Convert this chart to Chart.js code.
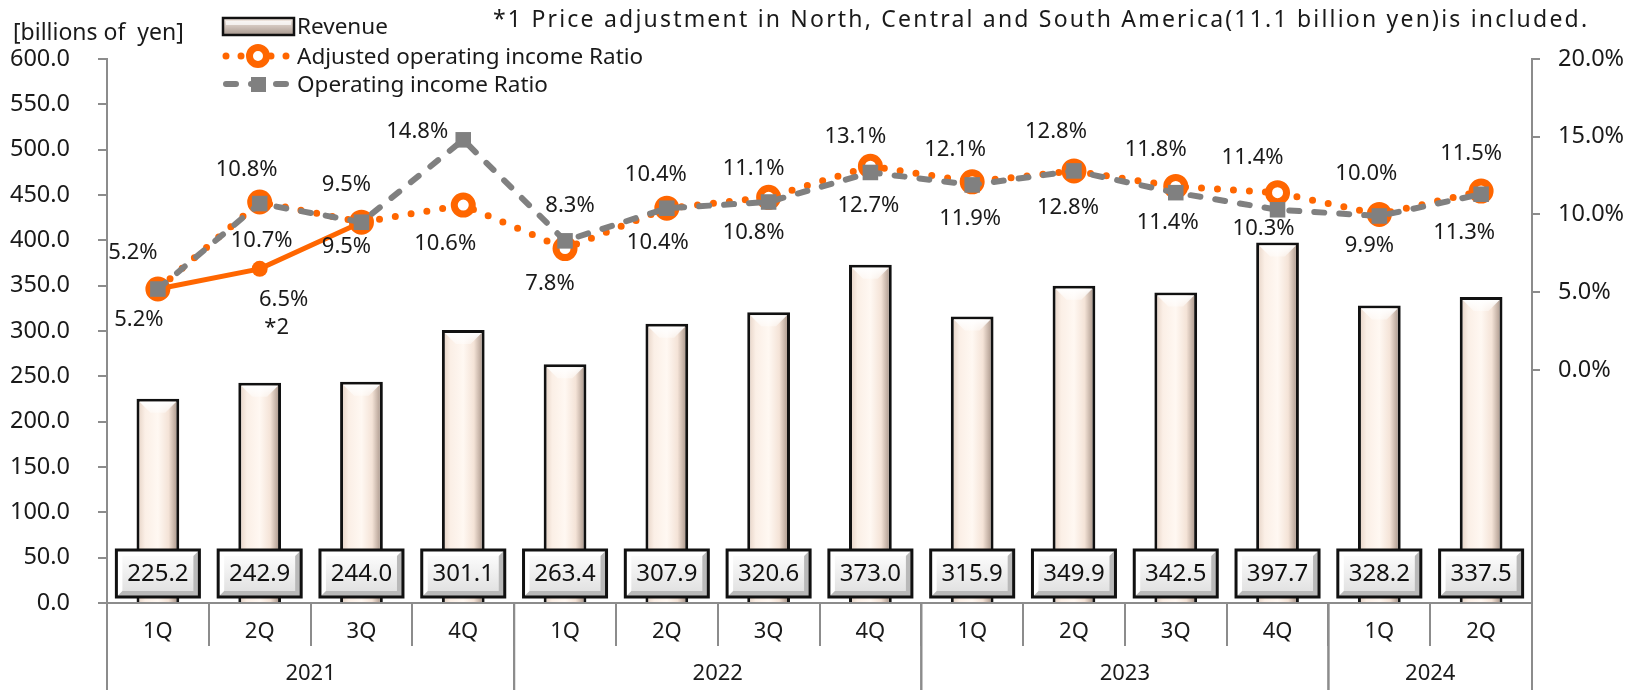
<!DOCTYPE html>
<html>
<head>
<meta charset="utf-8">
<title>Revenue and operating income ratio</title>
<script src="https://cdn.jsdelivr.net/npm/chart.js@4.4.0/dist/chart.umd.min.js"></script>
<style>
    html, body { margin: 0; padding: 0; background: #fff; }
    #wrap { width: 1645px; height: 690px; }
</style>
</head>
<body>
<div id="wrap"><canvas id="chartRevenue" width="1645" height="690"></canvas></div>
<script>
const quarters = ['1Q', '2Q', '3Q', '4Q', '1Q', '2Q', '3Q', '4Q', '1Q', '2Q', '3Q', '4Q', '1Q', '2Q'];
const years = ['2021', '2022', '2023', '2024'];
const quartersPerYear = [4, 4, 4, 2];
const revenue = [225.2, 242.9, 244.0, 301.1, 263.4, 307.9, 320.6, 373.0, 315.9, 349.9, 342.5, 397.7, 328.2, 337.5];
const adjustedRatio = [5.2, 10.8, 9.5, 10.6, 7.8, 10.4, 11.1, 13.1, 12.1, 12.8, 11.8, 11.4, 10.0, 11.5];
const operatingRatio = [5.2, 10.7, 9.5, 14.8, 8.3, 10.4, 10.8, 12.7, 11.9, 12.8, 11.4, 10.3, 9.9, 11.3];
const exclAdjustmentRatio = [5.2, 6.5, 9.5, null, null, null, null, null, null, null, null, null, null, null];
const leftTicks = { min: 0, max: 600, step: 50 };
const rightTicks = { min: -15, max: 20, step: 5 };
const unitText = '[billions of  yen]';
const noteText = '*1 Price adjustment in North, Central and South America(11.1 billion yen)is included.';
const footnoteMark = '*2';

// label offsets in px from each point (layout only)
const offAdjusted = [[-19, 31], [-13, -32], [-15, -37], [-18, 39], [-15, 35], [-11, -33], [-15, -29], [-15, -30], [-17, -32], [-18, -39], [-20, -37], [-25, -35], [-13, -41], [-10, -37]];
const offOperating = [[-25, -36], [2, 37], [-15, 25], [-46, -8], [5, -35], [-9, 35], [-15, 31], [-2, 33], [-2, 34], [-6, 37], [-8, 30], [-14, 19], [-10, 30], [-17, 39]];
const offExcl = { 1: [24, 31] };

const cores = {
    laranja: '#FF6600',
    cinza: '#808080',
    eixo: '#8C8C8C',
    texto: '#1A1A1A'
};
const FONT = '"Noto Sans", "Open Sans", sans-serif';

function barGradient(c) {
    const chart = c.chart;
    const xs = chart.scales.x;
    if (!chart.chartArea || !xs || c.type !== 'data') return '#F8ECE3';
    const x = xs.getPixelForValue(c.dataIndex);
    const half = xs.width / quarters.length * 0.42 / 2;
    const g = chart.ctx.createLinearGradient(x - half, 0, x + half, 0);
    g.addColorStop(0, '#E2CEC0');
    g.addColorStop(0.2, '#FBEFE6');
    g.addColorStop(0.5, '#FFF8F2');
    g.addColorStop(0.75, '#F4E3D7');
    g.addColorStop(1, '#9C887C');
    return g;
}

function bevelBox(ctx, x, y, w, h, lw, light, dark) {
    const g = ctx.createLinearGradient(0, y, 0, y + h);
    g.addColorStop(0, light);
    g.addColorStop(1, dark);
    ctx.fillStyle = g;
    ctx.fillRect(x, y, w, h);
    ctx.lineWidth = lw;
    ctx.strokeStyle = '#111';
    ctx.strokeRect(x, y, w, h);
}

function valueBox(ctx, cx, bottom, text) {
    const w = 83, h = 47;
    const x = cx - w / 2, y = bottom - 6 - h;
    const b = 6;
    ctx.fillStyle = '#B9B9B9';
    ctx.fillRect(x, y, w, h);
    ctx.fillStyle = '#FFFFFF';
    ctx.beginPath();
    ctx.moveTo(x, y); ctx.lineTo(x + w, y); ctx.lineTo(x + w - b, y + b);
    ctx.lineTo(x + b, y + h - b); ctx.lineTo(x, y + h);
    ctx.closePath(); ctx.fill();
    const g = ctx.createLinearGradient(0, y + b, 0, y + h - b);
    g.addColorStop(0, '#FBFBFB');
    g.addColorStop(1, '#E2E2E2');
    ctx.fillStyle = g;
    ctx.fillRect(x + b, y + b, w - 2 * b, h - 2 * b);
    ctx.lineWidth = 3;
    ctx.strokeStyle = '#111';
    ctx.strokeRect(x, y, w, h);
    ctx.fillStyle = '#111';
    ctx.font = '24px ' + FONT;
    ctx.textAlign = 'center';
    ctx.textBaseline = 'middle';
    ctx.fillText(text, cx, y + h / 2 + 1);
}

const decorPlugin = {
    id: 'decor',
    afterDatasetDraw(chart, args) {
        if (args.index !== 0) return;
        const ctx = chart.ctx;
        ctx.save();
        args.meta.data.forEach(bar => {
            const l = bar.x - bar.width / 2 + 3, r = bar.x + bar.width / 2 - 3, t = bar.y + 3, b = 11;
            const g = ctx.createLinearGradient(0, t, 0, t + b);
            g.addColorStop(0, 'rgba(255,255,255,1)');
            g.addColorStop(1, 'rgba(255,255,255,0.4)');
            ctx.fillStyle = g;
            ctx.beginPath();
            ctx.moveTo(l, t); ctx.lineTo(r, t); ctx.lineTo(r - b, t + b); ctx.lineTo(l + b, t + b);
            ctx.closePath(); ctx.fill();
        });
        ctx.restore();
    },
    afterDatasetsDraw(chart) {
        const ctx = chart.ctx;
        const area = chart.chartArea;
        ctx.save();
        // revenue value boxes
        chart.getDatasetMeta(0).data.forEach((bar, i) => {
            valueBox(ctx, bar.x, area.bottom, revenue[i].toFixed(1));
        });
        // ratio labels
        ctx.font = '22px ' + FONT;
        ctx.fillStyle = cores.texto;
        ctx.textAlign = 'center';
        ctx.textBaseline = 'middle';
        const put = (dsIndex, values, offs) => {
            chart.getDatasetMeta(dsIndex).data.forEach((pt, i) => {
                if (values[i] == null || !offs[i]) return;
                ctx.fillText(values[i].toFixed(1) + '%', pt.x + offs[i][0], pt.y + offs[i][1]);
            });
        };
        put(1, exclAdjustmentRatio, offExcl);
        put(2, adjustedRatio, offAdjusted);
        put(3, operatingRatio, offOperating);
        const p = chart.getDatasetMeta(1).data[1];
        ctx.fillText(footnoteMark, p.x + 17, p.y + 59);
        ctx.restore();
    },
    afterDraw(chart) {
        const ctx = chart.ctx;
        const area = chart.chartArea;
        const xs = chart.scales.x;
        const step = xs.width / quarters.length;
        ctx.save();
        // year row
        ctx.strokeStyle = cores.eixo;
        ctx.lineWidth = 2;
        let start = 0;
        ctx.font = '22px ' + FONT;
        ctx.fillStyle = cores.texto;
        ctx.textAlign = 'center';
        ctx.textBaseline = 'middle';
        quartersPerYear.forEach((n, k) => {
            const x0 = xs.left + start * step;
            const x1 = xs.left + (start + n) * step;
            ctx.beginPath();
            ctx.moveTo(x0, area.bottom); ctx.lineTo(x0, chart.height);
            ctx.moveTo(x1, area.bottom); ctx.lineTo(x1, chart.height);
            ctx.stroke();
            ctx.fillText(years[k], (x0 + x1) / 2, area.bottom + 71);
            start += n;
        });
        // unit + note
        ctx.textAlign = 'left';
        ctx.font = '23px ' + FONT;
        ctx.fillText(unitText, 13, 33);
        ctx.letterSpacing = '2.2px';
        ctx.fillText(noteText, 493, 20);
        ctx.letterSpacing = '0px';
        // legend
        const lx = 223, lw = 71, tx = 297;
        bevelBox(ctx, lx, 18, lw, 17, 2.5, '#F7EEE8', '#A8988E');
        ctx.fillStyle = 'rgba(255,255,255,0.7)';
        ctx.fillRect(lx + 3, 21, lw - 6, 4);
        ctx.lineCap = 'round';
        ctx.strokeStyle = cores.laranja;
        ctx.lineWidth = 7;
        ctx.setLineDash([0, 15]);
        ctx.beginPath(); ctx.moveTo(lx + 3, 56); ctx.lineTo(lx + lw, 56); ctx.stroke();
        ctx.setLineDash([]);
        ctx.fillStyle = '#fff';
        ctx.lineWidth = 7;
        ctx.beginPath(); ctx.arc(lx + 35, 56, 8.5, 0, Math.PI * 2); ctx.fill(); ctx.stroke();
        ctx.strokeStyle = cores.cinza;
        ctx.lineWidth = 6;
        ctx.setLineDash([10, 15]);
        ctx.beginPath(); ctx.moveTo(lx + 3, 84); ctx.lineTo(lx + lw, 84); ctx.stroke();
        ctx.setLineDash([]);
        ctx.fillStyle = cores.cinza;
        ctx.fillRect(lx + 28, 77, 15, 15);
        ctx.fillStyle = cores.texto;
        ctx.font = '22.5px ' + FONT;
        ctx.textBaseline = 'middle';
        chart.data.datasets.filter(d => d.showInLegend).forEach((d, i) => {
            ctx.fillText(d.label, tx, [28, 58, 86][i]);
        });
        ctx.restore();
    }
};

function criarGrafico() {
    const ctx = document.getElementById('chartRevenue');
    new Chart(ctx, {
        type: 'bar',
        data: {
            labels: quarters,
            datasets: [
                {
                    type: 'bar',
                    label: 'Revenue',
                    showInLegend: true,
                    data: revenue,
                    yAxisID: 'y',
                    backgroundColor: barGradient,
                    borderColor: '#111',
                    borderWidth: 3,
                    barPercentage: 0.42,
                    categoryPercentage: 1,
                    order: 4
                },
                {
                    type: 'line',
                    label: 'Operating income Ratio (excl. price adjustment)',
                    data: exclAdjustmentRatio,
                    yAxisID: 'y1',
                    borderColor: cores.laranja,
                    borderWidth: 5,
                    pointRadius: 8,
                    pointBackgroundColor: cores.laranja,
                    pointBorderWidth: 0,
                    spanGaps: false,
                    order: 3
                },
                {
                    type: 'line',
                    label: 'Adjusted operating income Ratio',
                    showInLegend: true,
                    data: adjustedRatio,
                    yAxisID: 'y1',
                    borderColor: cores.laranja,
                    borderWidth: 7,
                    borderDash: [0, 16],
                    borderCapStyle: 'round',
                    pointRadius: 9,
                    pointBorderWidth: 7,
                    pointBackgroundColor: '#fff',
                    pointBorderColor: cores.laranja,
                    order: 2
                },
                {
                    type: 'line',
                    label: 'Operating income Ratio',
                    showInLegend: true,
                    data: operatingRatio,
                    yAxisID: 'y1',
                    borderColor: cores.cinza,
                    borderWidth: 6,
                    borderDash: [10, 15],
                    borderCapStyle: 'round',
                    pointStyle: 'rect',
                    pointRadius: 11,
                    pointBorderWidth: 0,
                    pointBackgroundColor: cores.cinza,
                    order: 1
                }
            ]
        },
        options: {
            responsive: false,
            animation: false,
            devicePixelRatio: 1,
            layout: { padding: { top: 59, left: 0, right: 0, bottom: 0 } },
            plugins: {
                legend: { display: false },
                tooltip: { enabled: false }
            },
            scales: {
                x: {
                    offset: true,
                    grid: { display: true, drawOnChartArea: false, drawTicks: true, tickLength: 43, offset: true, color: cores.eixo, lineWidth: 2 },
                    border: { display: true, color: cores.eixo, width: 2 },
                    ticks: { color: cores.texto, font: { size: 22, family: FONT }, padding: -27, maxRotation: 0, autoSkip: false },
                    afterFit: s => { s.height = 87; }
                },
                y: {
                    position: 'left',
                    min: leftTicks.min,
                    max: leftTicks.max,
                    ticks: {
                        stepSize: leftTicks.step,
                        color: cores.texto,
                        font: { size: 23.5, family: FONT },
                        padding: 28,
                        callback: v => v.toFixed(1)
                    },
                    grid: { drawOnChartArea: false, drawTicks: true, tickLength: 9, color: cores.eixo, lineWidth: 2 },
                    border: { display: true, color: cores.eixo, width: 2 },
                    afterFit: s => { s.width = 107; }
                },
                y1: {
                    position: 'right',
                    min: rightTicks.min,
                    max: rightTicks.max,
                    ticks: {
                        stepSize: rightTicks.step,
                        color: cores.texto,
                        font: { size: 23.5, family: FONT },
                        padding: 18,
                        callback: v => v >= 0 ? v.toFixed(1) + '%' : ''
                    },
                    grid: {
                        drawOnChartArea: false, drawTicks: true, tickLength: 8, lineWidth: 2,
                        color: c => (c.tick && c.tick.value >= 0) ? cores.eixo : 'rgba(0,0,0,0)'
                    },
                    border: { display: true, color: cores.eixo, width: 2 },
                    afterFit: s => { s.width = 113; }
                }
            }
        },
        plugins: [decorPlugin]
    });
}

window.onload = criarGrafico;
</script>
</body>
</html>
